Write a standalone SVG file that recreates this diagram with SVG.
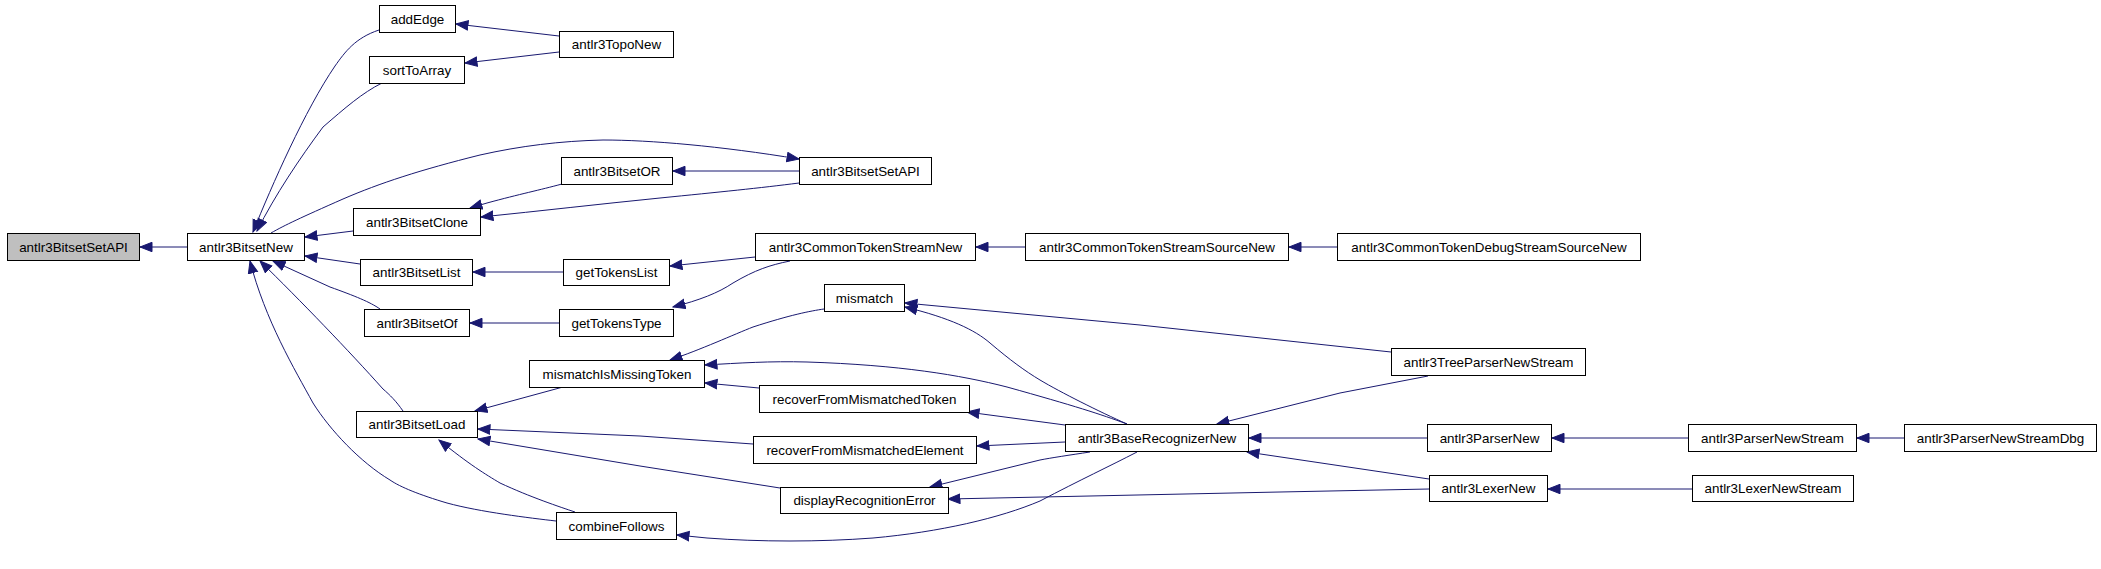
<svg xmlns="http://www.w3.org/2000/svg" width="2101" height="569" viewBox="0 0 2101 569">
<style>
.n rect{fill:#fff;stroke:#000;stroke-width:1}
.n.g rect{fill:#bfbfbf}
.n text{font-family:"Liberation Sans",Arial,sans-serif;font-size:13.4px;text-anchor:middle;fill:#000}
.e path{fill:none;stroke:#191970;stroke-width:1;marker-end:url(#arr)}
</style>
<defs>
<marker id="arr" markerUnits="userSpaceOnUse" markerWidth="14" markerHeight="12" refX="12.5" refY="5.5" orient="auto">
<path d="M0.5,0.8 L12.5,5.5 L0.5,10.2 z" fill="#191970" stroke="#191970" stroke-width="1"/>
</marker>
</defs>
<rect width="2101" height="569" fill="#fff"/>
<g id="edges" class="e">
<path d="M187,247 L140,247"/>
<path d="M379,30 C355,38 345,52 335,66 C305,110 272,185 253,232"/>
<path d="M382,83 C362,93 345,108 323,127 C300,158 275,195 257,231"/>
<path d="M271,233 C285,225 300,218 343,199 C380,183 420,170 480,155 C520,146 560,141 603,140 C650,140 720,146 799,159"/>
<path d="M799,171 L673,171"/>
<path d="M353,231 L305,237"/>
<path d="M562,184 C540,190 520,194 487,203 L470,208"/>
<path d="M799,183 C760,188 720,192 660,198 C600,204 540,211 481,217"/>
<path d="M360,264 L305,256"/>
<path d="M563,272 L473,272"/>
<path d="M559,36 L456,24"/>
<path d="M559,52 L465,63"/>
<path d="M755,257 L670,266"/>
<path d="M790,261 C770,265 755,270 733,283 C718,293 700,300 673,307"/>
<path d="M1025,247 L976,247"/>
<path d="M1337,247 L1289,247"/>
<path d="M380,309 C370,302 355,296 330,287 L273,261"/>
<path d="M403,411 C396,401 390,395 383,389 C350,352 300,300 260,261"/>
<path d="M556,521 C530,518 480,512 447,503 C420,495 400,487 390,480 C360,462 330,430 313,403 C295,370 265,320 250,261"/>
<path d="M559,323 L470,323"/>
<path d="M563,387 L475,411"/>
<path d="M753,444 L640,436 L478,429"/>
<path d="M780,488 L640,466 L478,439"/>
<path d="M575,512 C560,507 530,497 500,483 C485,474 470,465 439,440"/>
<path d="M824,309 C810,311 790,315 753,327 C735,334 700,350 670,360"/>
<path d="M1127,424 C1100,414 1075,406 1007,387 C960,375 900,365 807,362 C770,361 740,363 705,365"/>
<path d="M1127,424 C1100,412 1060,392 1040,380 C1025,371 1010,360 990,343 C975,330 950,318 905,307"/>
<path d="M1391,352 L1140,325 L905,303"/>
<path d="M759,388 L705,383"/>
<path d="M1065,425 L967,412"/>
<path d="M1065,442 L977,446"/>
<path d="M1090,452 C1070,455 1050,458 1040,460 L930,487"/>
<path d="M1429,489 L1280,492 L948,499"/>
<path d="M1137,452 C1110,466 1080,480 1040,501 C1000,518 940,532 873,538 C820,542 760,542 707,538 L677,535"/>
<path d="M1428,376 L1340,393 L1217,424"/>
<path d="M1427,438 L1249,438"/>
<path d="M1429,479 L1247,452"/>
<path d="M1688,438 L1552,438"/>
<path d="M1904,438 L1857,438"/>
<path d="M1692,489 L1548,489"/>
</g>
<g id="n_setapi_root" class="n g"><rect x="7.5" y="233.5" width="132" height="27"/><text x="73.5" y="251.8">antlr3BitsetSetAPI</text></g>
<g id="n_bitsetnew" class="n"><rect x="187.5" y="233.5" width="117" height="27"/><text x="246" y="251.8">antlr3BitsetNew</text></g>
<g id="n_addedge" class="n"><rect x="379.5" y="5.5" width="76" height="27"/><text x="417.5" y="23.8">addEdge</text></g>
<g id="n_sorttoarray" class="n"><rect x="369.5" y="56.5" width="95" height="27"/><text x="417" y="74.8">sortToArray</text></g>
<g id="n_toponew" class="n"><rect x="559.5" y="31.5" width="114" height="26"/><text x="616.5" y="49.3">antlr3TopoNew</text></g>
<g id="n_bitsetor" class="n"><rect x="561.5" y="157.5" width="111" height="27"/><text x="617" y="175.8">antlr3BitsetOR</text></g>
<g id="n_setapi" class="n"><rect x="799.5" y="157.5" width="132" height="27"/><text x="865.5" y="175.8">antlr3BitsetSetAPI</text></g>
<g id="n_clone" class="n"><rect x="353.5" y="208.5" width="127" height="27"/><text x="417" y="226.8">antlr3BitsetClone</text></g>
<g id="n_list" class="n"><rect x="360.5" y="259.5" width="112" height="26"/><text x="416.5" y="277.3">antlr3BitsetList</text></g>
<g id="n_gettokenslist" class="n"><rect x="563.5" y="259.5" width="106" height="26"/><text x="616.5" y="277.3">getTokensList</text></g>
<g id="n_ctsn" class="n"><rect x="755.5" y="233.5" width="220" height="27"/><text x="865.5" y="251.8">antlr3CommonTokenStreamNew</text></g>
<g id="n_ctssn" class="n"><rect x="1025.5" y="233.5" width="263" height="27"/><text x="1157" y="251.8">antlr3CommonTokenStreamSourceNew</text></g>
<g id="n_ctdssn" class="n"><rect x="1337.5" y="233.5" width="303" height="27"/><text x="1489" y="251.8">antlr3CommonTokenDebugStreamSourceNew</text></g>
<g id="n_of" class="n"><rect x="364.5" y="309.5" width="105" height="27"/><text x="417" y="327.8">antlr3BitsetOf</text></g>
<g id="n_gettokenstype" class="n"><rect x="559.5" y="309.5" width="114" height="27"/><text x="616.5" y="327.8">getTokensType</text></g>
<g id="n_mimt" class="n"><rect x="529.5" y="360.5" width="175" height="27"/><text x="617" y="378.8">mismatchIsMissingToken</text></g>
<g id="n_load" class="n"><rect x="356.5" y="411.5" width="121" height="26"/><text x="417" y="429.3">antlr3BitsetLoad</text></g>
<g id="n_combine" class="n"><rect x="556.5" y="512.5" width="120" height="27"/><text x="616.5" y="530.8">combineFollows</text></g>
<g id="n_mismatch" class="n"><rect x="824.5" y="284.5" width="80" height="27"/><text x="864.5" y="302.8">mismatch</text></g>
<g id="n_rfmt" class="n"><rect x="759.5" y="385.5" width="210" height="27"/><text x="864.5" y="403.8">recoverFromMismatchedToken</text></g>
<g id="n_rfme" class="n"><rect x="753.5" y="436.5" width="223" height="27"/><text x="865" y="454.8">recoverFromMismatchedElement</text></g>
<g id="n_dre" class="n"><rect x="780.5" y="487.5" width="168" height="26"/><text x="864.5" y="505.3">displayRecognitionError</text></g>
<g id="n_brn" class="n"><rect x="1065.5" y="424.5" width="183" height="27"/><text x="1157" y="442.8">antlr3BaseRecognizerNew</text></g>
<g id="n_tpns" class="n"><rect x="1391.5" y="348.5" width="194" height="27"/><text x="1488.5" y="366.8">antlr3TreeParserNewStream</text></g>
<g id="n_parsernew" class="n"><rect x="1427.5" y="424.5" width="124" height="27"/><text x="1489.5" y="442.8">antlr3ParserNew</text></g>
<g id="n_pns" class="n"><rect x="1688.5" y="424.5" width="168" height="27"/><text x="1772.5" y="442.8">antlr3ParserNewStream</text></g>
<g id="n_pnsdbg" class="n"><rect x="1904.5" y="424.5" width="192" height="27"/><text x="2000.5" y="442.8">antlr3ParserNewStreamDbg</text></g>
<g id="n_lexernew" class="n"><rect x="1429.5" y="475.5" width="118" height="26"/><text x="1488.5" y="493.3">antlr3LexerNew</text></g>
<g id="n_lns" class="n"><rect x="1692.5" y="475.5" width="161" height="26"/><text x="1773" y="493.3">antlr3LexerNewStream</text></g>
</svg>
